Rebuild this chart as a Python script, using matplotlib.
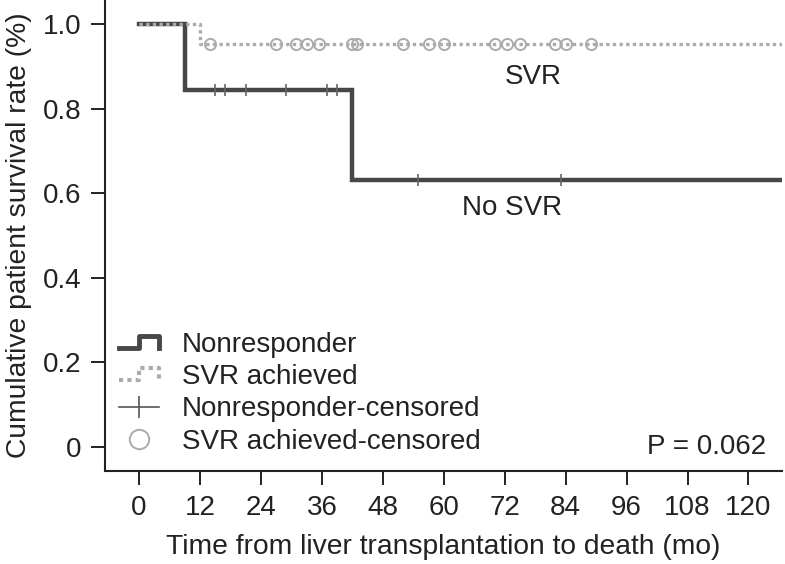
import numpy as np
import matplotlib
matplotlib.use("Agg")
import matplotlib.pyplot as plt
from matplotlib.legend_handler import HandlerBase
from matplotlib.lines import Line2D

plt.rcParams['font.family'] = ['Liberation Sans', 'DejaVu Sans']

# Kaplan-Meier steps (time in months, survival fraction)
nonresp_time = [0, 9, 42]
nonresp_surv = [1.0, 0.844, 0.632]
svr_time = [0, 12]
svr_surv = [1.0, 0.952]

# censored observations
nonresp_cens = [15, 17, 21, 29, 37, 39, 55, 83]
svr_cens = [14, 27, 31, 33, 35.5, 42, 43, 52, 57, 60, 70, 72.5, 75, 82, 84, 89]

x_ticks = [0, 12, 24, 36, 48, 60, 72, 84, 96, 108, 120]
y_ticks = [0, 0.2, 0.4, 0.6, 0.8, 1.0]
y_labels = ["0", "0.2", "0.4", "0.6", "0.8", "1.0"]

XMAX = 126.6
DARK = '#474747'
LIGHT = '#ababab'


def surv_at(times, surv, t):
    idx = np.searchsorted(times, t, side='right') - 1
    return np.array(surv)[idx]


class StepHandler(HandlerBase):
    """draws a little step as legend handle"""
    def __init__(self, color, lw, ls):
        super().__init__()
        self.color, self.lw, self.ls = color, lw, ls

    def create_artists(self, legend, orig_handle, xdescent, ydescent,
                       width, height, fontsize, trans):
        x0, y0 = -xdescent, -ydescent
        xs = [x0, x0 + 0.5 * width, x0 + 0.5 * width, x0 + width, x0 + width]
        ys = [y0 + 0.2 * height, y0 + 0.2 * height, y0 + 0.8 * height,
              y0 + 0.8 * height, y0 + 0.2 * height]
        ln = Line2D(xs, ys, color=self.color, lw=self.lw, linestyle=self.ls,
                    transform=trans)
        return [ln]


fig = plt.figure(figsize=(7.85, 5.64), dpi=100)
ax = fig.add_axes([105 / 785, 1 - 471 / 564, 677 / 785, 471 / 564])

# nonresponder curve
t = list(nonresp_time) + [XMAX]
s = list(nonresp_surv) + [nonresp_surv[-1]]
ax.step(t, s, where='post', color=DARK, lw=3.2, solid_joinstyle='miter', zorder=3)
ax.plot(nonresp_cens, surv_at(nonresp_time, nonresp_surv, nonresp_cens),
        linestyle='none', marker='|', ms=9, mew=1.2, color='#666666', zorder=4)

# SVR curve
t = list(svr_time) + [XMAX]
s = list(svr_surv) + [svr_surv[-1]]
ax.step(t, s, where='post', color=LIGHT, lw=2.4, linestyle=(0, (1, 1)),
        dash_capstyle='butt', zorder=5)
ax.plot(svr_cens, surv_at(svr_time, svr_surv, svr_cens),
        linestyle='none', marker='o', ms=8, mew=1.4, mfc='none', mec=LIGHT, zorder=6)

ax.text(77.6, 0.875, "SVR", fontsize=20, ha='center', va='center', color='#222222')
ax.text(73.4, 0.565, "No SVR", fontsize=20, ha='center', va='center', color='#222222')
ax.text(123.5, 0.0, "P = 0.062", fontsize=20, ha='right', va='center', color='#222222')

ax.set_xlim(-6.7, XMAX)
ax.set_ylim(-0.057, 1.057)
ax.set_xticks(x_ticks)
ax.set_yticks(y_ticks)
ax.set_yticklabels(y_labels)
ax.tick_params(axis='both', direction='out', length=10, width=1.4,
               labelsize=20, colors='#222222', pad=7)
for side in ['top', 'right']:
    ax.spines[side].set_visible(False)
for side in ['left', 'bottom']:
    ax.spines[side].set_linewidth(1.5)
    ax.spines[side].set_color('#222222')

ax.set_xlabel("Time from liver transplantation to death (mo)", fontsize=20.3,
              color='#222222', labelpad=10)
ax.set_ylabel("Cumulative patient survival rate (%)", fontsize=20.3,
              color='#222222', labelpad=8)

h_nr = Line2D([], [], color=DARK)
h_svr = Line2D([], [], color=LIGHT)
h_nrc = Line2D([], [], color='#555555', lw=1.2, marker='|', ms=16, mew=1.2)
h_svrc = Line2D([], [], color=LIGHT, linestyle='none', marker='o', ms=14,
                mfc='none', mew=1.4)
leg = ax.legend([h_nr, h_svr, h_nrc, h_svrc],
                ["Nonresponder", "SVR achieved", "Nonresponder-censored",
                 "SVR achieved-censored"],
                handler_map={h_nr: StepHandler(DARK, 3.5, '-'),
                             h_svr: StepHandler(LIGHT, 3.0, (0, (1, 1)))},
                loc='upper left', bbox_to_anchor=(8 / 677, 1 - 326 / 471),
                frameon=False, fontsize=20, handlelength=1.45,
                handletextpad=0.82, labelspacing=0.23, borderpad=0.2,
                borderaxespad=0)
for txt in leg.get_texts():
    txt.set_color('#222222')

fig.savefig("out.png", dpi=100)
